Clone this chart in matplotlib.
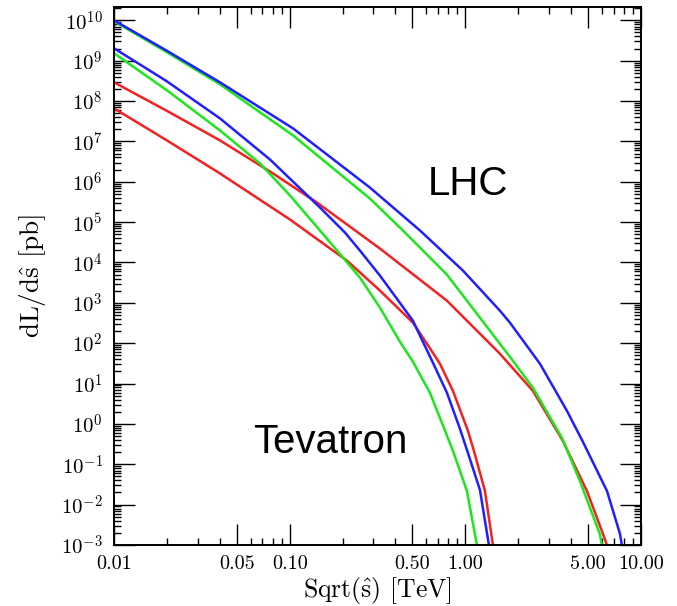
import numpy as np
import matplotlib as mpl
import matplotlib.pyplot as plt
from matplotlib.ticker import FixedLocator, NullFormatter
mpl.use('Agg')

plt.rcParams['font.family'] = 'serif'
plt.rcParams['font.serif'] = ['cmr10', 'DejaVu Serif']
plt.rcParams['mathtext.fontset'] = 'cm'
plt.rcParams['axes.formatter.use_mathtext'] = True

# LHC curves (sqrt(s_hat) in TeV, dL/ds_hat in pb)
lhc_blue_x = [0.01, 0.0200, 0.0401, 0.1045, 0.286, 0.552, 0.969, 1.573, 1.794, 2.659, 3.787, 4.67, 6.40, 7.59, 7.78]
lhc_blue_y = [1.0e10, 1.76e9, 2.91e8, 2.10e7, 7.2e5, 6.2e4, 6.3e3, 640, 323, 31, 2.11, 0.36, 0.0219, 1.9e-3, 1e-3]

lhc_green_x = [0.01, 0.0200, 0.0401, 0.1045, 0.286, 0.4357, 0.786, 1.573, 1.794, 2.425, 3.55, 4.49, 5.83, 5.99]
lhc_green_y = [9.5e9, 1.62e9, 2.6e8, 1.41e7, 3.85e5, 6.55e4, 5.0e3, 97, 46, 7.9, 0.45, 0.0387, 1.87e-3, 1e-3]

lhc_red_x = [0.01, 0.0200, 0.0401, 0.0772, 0.143, 0.3266, 0.786, 1.573, 2.425, 3.59, 4.92, 6.07, 6.40]
lhc_red_y = [2.91e8, 5.71e7, 1.06e7, 1.80e6, 3.06e5, 2.21e4, 1.13e3, 55, 6.6, 0.381, 0.0219, 1.9e-3, 1e-3]

# Tevatron curves
tev_blue_x = [0.01, 0.0200, 0.0401, 0.0772, 0.1488, 0.2064, 0.2512, 0.3266, 0.503, 0.566, 0.654, 0.786,
              0.932, 1.021, 1.211, 1.362]
tev_blue_y = [2.03e9, 3.08e8, 3.72e7, 3.57e6, 2.30e5, 5.52e4, 1.97e4, 4.73e3, 361, 122, 32.8, 5.9,
              0.755, 0.228, 0.0232, 1e-3]

tev_green_x = [0.01, 0.0200, 0.0401, 0.0678, 0.1004, 0.1488, 0.2512, 0.3266, 0.4244, 0.503, 0.629, 0.736,
               0.850, 1.021, 1.164]
tev_green_y = [1.53e9, 1.85e8, 1.87e7, 2.84e6, 4.57e5, 6.19e4, 4.22e3, 760, 109, 34.8, 5.9, 1.06,
               0.215, 0.0219, 1e-3]

tev_red_x = [0.01, 0.0200, 0.0401, 0.1004, 0.212, 0.3266, 0.503, 0.6045, 0.717, 0.850, 1.035, 1.119, 1.293, 1.436]
tev_red_y = [6.59e7, 1.06e7, 1.61e6, 1.16e5, 1.11e4, 2.01e3, 323, 97, 31, 6.6, 0.675, 0.215, 0.0219, 1e-3]

x_major = [0.01, 0.05, 0.1, 0.5, 1.0, 5.0, 10.0]
x_major_labels = ['0.01', '0.05', '0.10', '0.50', '1.00', '5.00', '10.00']
y_exponents = list(range(-3, 11))

blue = '#1f1fff'
green = '#1de61d'
red = '#f52020'

fig = plt.figure(figsize=(6.77, 6.06), dpi=100)
ax = fig.add_axes([114 / 677, 61 / 606, 527 / 677, 538 / 606])
ax.set_xscale('log')
ax.set_yscale('log')

for xs, ys, c in [(lhc_red_x, lhc_red_y, red), (lhc_green_x, lhc_green_y, green),
                  (lhc_blue_x, lhc_blue_y, blue), (tev_red_x, tev_red_y, red),
                  (tev_green_x, tev_green_y, green), (tev_blue_x, tev_blue_y, blue)]:
    ax.plot(xs, ys, color=c, lw=1.8, solid_joinstyle='round')

ax.set_xlim(0.01, 10)
ax.set_ylim(1e-3, 10 ** 10.33)

ax.xaxis.set_major_locator(FixedLocator(x_major))
ax.set_xticklabels(x_major_labels)
x_minor = [m * 10.0 ** e for e in (-2, -1, 0) for m in range(2, 10) if m != 5]
ax.xaxis.set_minor_locator(FixedLocator(x_minor))
ax.xaxis.set_minor_formatter(NullFormatter())

ax.yaxis.set_major_locator(FixedLocator([10.0 ** k for k in y_exponents]))
ax.set_yticklabels([r'$10^{%d}$' % k for k in y_exponents])
y_minor = [m * 10.0 ** e for e in range(-3, 11) for m in range(2, 10)]
ax.yaxis.set_minor_locator(FixedLocator(y_minor))
ax.yaxis.set_minor_formatter(NullFormatter())

ax.tick_params(which='both', direction='in', top=True, right=True, width=1.0)
ax.tick_params(which='major', length=15)
ax.tick_params(which='minor', length=5)
ax.tick_params(axis='x', which='major', labelsize=14.5, pad=7)
ax.tick_params(axis='y', which='major', labelsize=15, pad=8)

for t, v in zip(ax.xaxis.get_major_ticks(), x_major):
    if v in (0.1, 1.0, 10.0):
        t.tick1line.set_color('0.55')
        t.tick2line.set_color('0.55')

for s in ax.spines.values():
    s.set_linewidth(1.4)

ax.set_xlabel(r'Sqrt($\hat{\mathrm{s}}$) [TeV]', fontsize=18.5)
ax.xaxis.set_label_coords(0.5, -0.056)
ax.set_ylabel(r'dL/d$\hat{\mathrm{s}}$ [pb]', fontsize=19.5)
ax.yaxis.set_label_coords(-0.125, 0.50)

ax.text(0.596, 0.650, 'LHC', transform=ax.transAxes, fontsize=29,
        family='Liberation Sans', ha='left', va='baseline')
ax.text(0.264, 0.171, 'Tevatron', transform=ax.transAxes, fontsize=29,
        family='Liberation Sans', ha='left', va='baseline')

fig.savefig('out.png', dpi=100)
plt.close(fig)
